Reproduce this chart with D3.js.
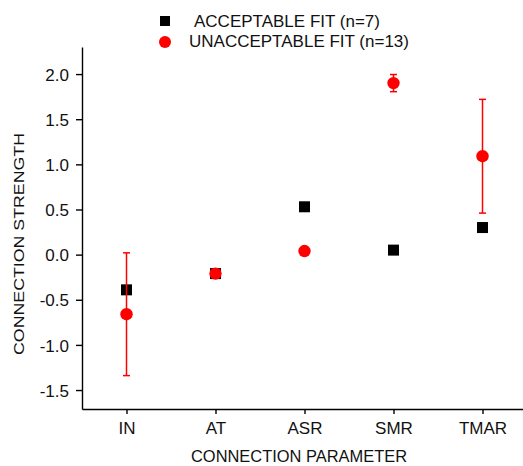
<!DOCTYPE html>
<html>
<head>
<meta charset="utf-8">
<script src="https://cdn.jsdelivr.net/npm/d3@7"></script>
<style>
  html, body { margin: 0; padding: 0; background: #fff; }
  svg { display: block; font-family: Arial, "Liberation Sans", Helvetica, sans-serif; }
</style>
</head>
<body>
<svg id="chart" width="523" height="466"></svg>
<script>
// Connection parameters on the x axis
const categories = ["IN", "AT", "ASR", "SMR", "TMAR"];

// Mean connection strength and standard error, acceptable fits (n=7)
const acceptableMean = [-0.39, -0.21, 0.53, 0.05, 0.30];
const acceptableErr  = [0.02, 0.02, 0.02, 0.02, 0.05];

// Mean connection strength and standard error, unacceptable fits (n=13)
const unacceptableMean = [-0.66, -0.21, 0.04, 1.90, 1.09];
const unacceptableErr  = [0.68, 0.02, 0.03, 0.095, 0.63];

const yTicks = [-1.5, -1.0, -0.5, 0.0, 0.5, 1.0, 1.5, 2.0];

const legendLabels = ["ACCEPTABLE FIT (n=7)", "UNACCEPTABLE FIT (n=13)"];

const svg = d3.select("#chart");

const x = d3.scalePoint().domain(categories).range([82, 527]).padding(0.5);
const y = d3.scaleLinear().domain([-1.71, 2.3]).range([409, 47]);

const fmt = v => d3.format(".1f")(v).replace("\u2212", "-");

// Axes
const yAxis = svg.append("g")
  .attr("transform", "translate(82,0)")
  .call(d3.axisLeft(y).tickValues(yTicks).tickFormat(fmt).tickSize(6).tickSizeOuter(0).tickPadding(7));
const xAxis = svg.append("g")
  .attr("transform", "translate(0,409)")
  .call(d3.axisBottom(x).tickSize(5).tickSizeOuter(0).tickPadding(8));

[yAxis, xAxis].forEach(g => {
  g.selectAll("path, line").attr("stroke", "#000").attr("stroke-width", 1.4);
  g.selectAll("text").attr("fill", "#111").attr("font-size", 17)
    .attr("font-family", "Arial, 'Liberation Sans', sans-serif");
});
yAxis.selectAll("text").attr("dy", "0.36em");

// Axis titles
svg.append("text")
  .attr("transform", "translate(24,244) rotate(-90)")
  .attr("text-anchor", "middle")
  .attr("font-size", 15)
  .attr("textLength", 222)
  .attr("lengthAdjust", "spacingAndGlyphs")
  .attr("fill", "#111")
  .text("CONNECTION STRENGTH");

svg.append("text")
  .attr("x", 299).attr("y", 461.5)
  .attr("text-anchor", "middle")
  .attr("font-size", 16)
  .attr("textLength", 216)
  .attr("lengthAdjust", "spacingAndGlyphs")
  .attr("fill", "#111")
  .text("CONNECTION PARAMETER");

// Error bars
function errorBars(means, errs, color, cls) {
  const g = svg.append("g").attr("class", cls)
    .attr("stroke", color).attr("stroke-width", 1.5);
  categories.forEach((c, i) => {
    const cx = x(c), hi = y(means[i] + errs[i]), lo = y(means[i] - errs[i]);
    g.append("line").attr("x1", cx).attr("x2", cx).attr("y1", hi).attr("y2", lo);
    g.append("line").attr("x1", cx - 3.5).attr("x2", cx + 3.5).attr("y1", hi).attr("y2", hi);
    g.append("line").attr("x1", cx - 3.5).attr("x2", cx + 3.5).attr("y1", lo).attr("y2", lo);
  });
}

errorBars(acceptableMean, acceptableErr, "#000", "err-acc");

// Acceptable fit: black squares
svg.append("g").selectAll("rect")
  .data(acceptableMean)
  .join("rect")
  .attr("x", (d, i) => x(categories[i]) - 5.5)
  .attr("y", d => y(d) - 5.5)
  .attr("width", 11).attr("height", 11)
  .attr("fill", "#000");

errorBars(unacceptableMean, unacceptableErr, "#ff0000", "err-unacc");

// Unacceptable fit: red circles
svg.append("g").selectAll("circle")
  .data(unacceptableMean)
  .join("circle")
  .attr("cx", (d, i) => x(categories[i]))
  .attr("cy", d => y(d))
  .attr("r", 6.2)
  .attr("fill", "#ff0000");

// Legend
const legend = svg.append("g");
legend.append("rect").attr("x", 160).attr("y", 16).attr("width", 10).attr("height", 10).attr("fill", "#000");
legend.append("circle").attr("cx", 165).attr("cy", 42).attr("r", 6).attr("fill", "#ff0000");
legend.append("text").attr("x", 194).attr("y", 27).attr("font-size", 17).attr("fill", "#111").text(legendLabels[0]);
legend.append("text").attr("x", 189).attr("y", 47).attr("font-size", 17).attr("fill", "#111").text(legendLabels[1]);
</script>
</body>
</html>
